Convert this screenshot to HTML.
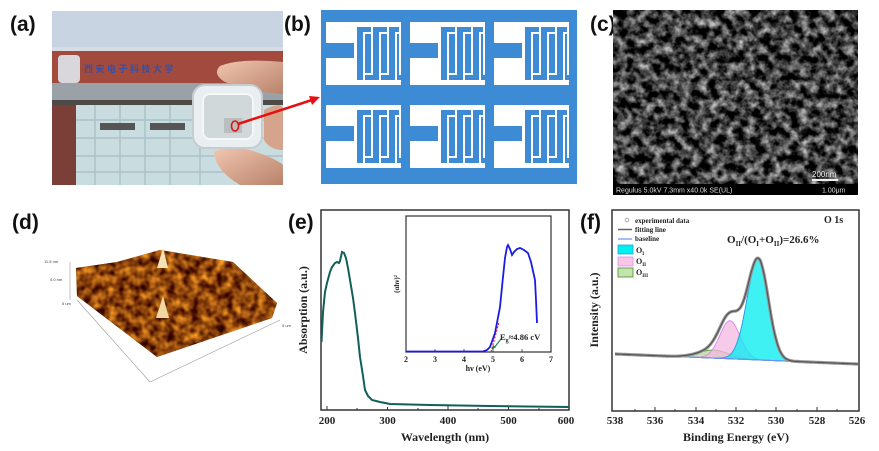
<!DOCTYPE html>
<html><head><meta charset="utf-8">
<style>
html,body{margin:0;padding:0;background:#fff;}
body{width:879px;height:451px;overflow:hidden;position:relative;font-family:"Liberation Sans",sans-serif;}
svg{position:absolute;left:0;top:0;}
.lab{font-family:"Liberation Sans",sans-serif;font-weight:bold;font-size:21px;fill:#111;}
.ser{font-family:"Liberation Serif",serif;font-weight:bold;fill:#222;}
</style></head>
<body>
<svg width="879" height="451" viewBox="0 0 879 451" xmlns="http://www.w3.org/2000/svg">
<defs>
 <filter id="semn" x="0" y="0" width="100%" height="100%" color-interpolation-filters="sRGB">
  <feTurbulence type="fractalNoise" baseFrequency="0.11" numOctaves="3" seed="7" result="t"/>
  <feColorMatrix in="t" type="matrix" values="1.5 0 0 0 -0.5  1.5 0 0 0 -0.5  1.5 0 0 0 -0.5  0 0 0 0 1"/>
 </filter>
 <filter id="afm" x="0" y="0" width="100%" height="100%" color-interpolation-filters="sRGB">
  <feTurbulence type="fractalNoise" baseFrequency="0.12" numOctaves="2" seed="3" result="t"/>
  <feColorMatrix in="t" type="matrix" values="1.4 0 0 0 -0.15  1.1 0 0 0 -0.28  0.3 0 0 0 -0.1  0 0 0 0 1"/>
 </filter>
 <clipPath id="afmclip"><polygon points="76,268 117,262 160,250 233,262 277,303 272,318 157,357 77,296"/></clipPath>
 <clipPath id="semclip"><rect x="613" y="10" width="245" height="175"/></clipPath>
 <linearGradient id="skin" x1="0" y1="0" x2="1" y2="1"><stop offset="0" stop-color="#f1c6b0"/><stop offset="1" stop-color="#b9826a"/></linearGradient>
 <g id="unit">
  <rect x="0" y="0" width="75" height="5" fill="#fff"/>
  <rect x="0" y="0" width="28" height="21" fill="#fff"/>
  <rect x="0" y="36" width="28" height="27" fill="#fff"/>
  <rect x="28" y="58" width="47" height="5" fill="#fff"/>
  <rect x="28" y="5" width="3" height="56" fill="#fff"/>
  <rect x="37" y="10" width="2" height="50" fill="#fff"/>
  <rect x="45" y="5" width="2" height="48" fill="#fff"/>
  <rect x="37" y="10" width="10" height="2" fill="#fff"/>
  <rect x="53" y="10" width="2" height="50" fill="#fff"/>
  <rect x="61" y="5" width="2" height="48" fill="#fff"/>
  <rect x="53" y="10" width="10" height="2" fill="#fff"/>
  <rect x="69" y="10" width="2" height="50" fill="#fff"/>
  <rect x="73" y="5" width="2" height="48" fill="#fff"/>
  <rect x="69" y="10" width="6" height="2" fill="#fff"/>
  <rect x="37" y="51" width="10" height="2" fill="#fff"/>
  <rect x="53" y="51" width="10" height="2" fill="#fff"/>
 </g>
</defs>

<text class="lab" x="10" y="31">(a)</text>
<text class="lab" x="284" y="31">(b)</text>
<text class="lab" x="590" y="31">(c)</text>
<text class="lab" x="12" y="229">(d)</text>
<text class="lab" x="288" y="229">(e)</text>
<text class="lab" x="580" y="229">(f)</text>

<!-- (a) photo -->
<g>
 <rect x="52" y="11" width="231" height="174" fill="#c8d4e2"/>
 <rect x="52" y="50" width="231" height="33" fill="#a24a3e"/>
 <rect x="52" y="47" width="231" height="4" fill="#d8dde4"/>
 <rect x="58" y="55" width="22" height="28" rx="4" fill="#d9d6dc"/>
 <text x="84" y="72" font-size="9" fill="#3b4fa0" font-weight="bold" font-family="Liberation Sans,Noto Sans CJK SC,sans-serif">西 安 电 子 科 技 大 学</text>
 <rect x="52" y="83" width="231" height="17" fill="#9aa2a8"/>
 <rect x="52" y="100" width="231" height="5" fill="#4e4a48"/>
 <rect x="52" y="105" width="231" height="80" fill="#c9dde0"/>
 <rect x="52" y="105" width="24" height="80" fill="#7a4038"/>
 <g stroke="#9fb8bd" stroke-width="1.5" opacity="0.7">
  <line x1="76" y1="120" x2="283" y2="120"/><line x1="76" y1="138" x2="283" y2="138"/><line x1="76" y1="156" x2="283" y2="156"/><line x1="76" y1="172" x2="283" y2="172"/>
  <line x1="95" y1="105" x2="95" y2="185"/><line x1="120" y1="105" x2="120" y2="185"/><line x1="145" y1="105" x2="145" y2="185"/><line x1="170" y1="105" x2="170" y2="185"/><line x1="200" y1="105" x2="200" y2="185"/>
 </g>
 <rect x="100" y="123" width="35" height="7" fill="#555"/><rect x="150" y="123" width="35" height="7" fill="#555"/>
 <path d="M220,66 Q240,58 283,62 L283,94 Q250,92 225,82 Q212,74 220,66Z" fill="url(#skin)"/>
 <path d="M214,152 Q225,145 250,150 Q275,158 283,165 L283,185 L240,185 Q215,170 214,152Z" fill="url(#skin)"/>
 <path d="M264,110 Q283,100 283,110 L283,150 Q270,150 264,140Z" fill="#d6a48c"/>
 <rect x="193" y="85" width="69" height="63" rx="12" fill="#e9eef0" stroke="#c6cdd1" stroke-width="2"/>
 <rect x="203" y="94" width="50" height="45" rx="7" fill="#d0d8da" stroke="#f5f7f8" stroke-width="2"/>
 <rect x="224" y="118" width="18" height="15" fill="#b9bfc0"/>
 <ellipse cx="235" cy="126" rx="3.5" ry="5" fill="none" stroke="#e61010" stroke-width="1.6"/>
 <line x1="238" y1="124" x2="312" y2="100" stroke="#e61010" stroke-width="2.5"/>
 <polygon points="320,97 309,96 312,105" fill="#e61010"/>
</g>

<!-- (b) electrodes -->
<rect x="321" y="10" width="256" height="174" fill="#3c8bd4"/>
<use href="#unit" x="326" y="22"/><use href="#unit" x="410" y="22"/><use href="#unit" x="494" y="22"/>
<use href="#unit" x="326" y="105"/><use href="#unit" x="410" y="105"/><use href="#unit" x="494" y="105"/>

<!-- (c) SEM -->
<rect x="613" y="10" width="245" height="185" fill="#2a2a2a"/>
<g clip-path="url(#semclip)">
 <rect x="613" y="10" width="245" height="175" filter="url(#semn)"/>
</g>
<rect x="613" y="184" width="245" height="11" fill="#000"/>
<text x="616" y="192.5" font-size="7" fill="#ddd">Regulus 5.0kV 7.3mm x40.0k SE(UL)</text>
<text x="822" y="192.5" font-size="7" fill="#ddd">1.00μm</text>
<text x="812" y="177" font-size="8" fill="#eee">200nm</text>
<rect x="812" y="179" width="26" height="2" fill="#eee"/>

<!-- (d) AFM -->
<g>
 <line x1="70" y1="262" x2="70" y2="300" stroke="#999" stroke-width="0.6"/>
 <line x1="77" y1="300" x2="150" y2="382" stroke="#999" stroke-width="0.6"/>
 <line x1="150" y1="382" x2="280" y2="320" stroke="#999" stroke-width="0.6"/>
 <text x="44" y="263" font-size="4" fill="#444">11.5 nm</text>
 <text x="50" y="281" font-size="4" fill="#444">0.0 nm</text>
 <text x="62" y="305" font-size="4" fill="#444">5 um</text>
 <text x="282" y="327" font-size="4" fill="#444">5 um</text>
 <polygon points="76,268 117,262 160,250 233,262 277,303 272,318 157,357 77,296" fill="#8a4a0c"/>
 <g clip-path="url(#afmclip)">
  <rect x="70" y="245" width="215" height="120" filter="url(#afm)" opacity="0.9"/>
 </g>
 <polygon points="163,248 168,268 157,268" fill="#f4e2b4"/>
 <polygon points="163,296 169,318 156,318" fill="#f0d8a0"/>
</g>

<!-- (e) absorption -->
<g>
 <rect x="321" y="210" width="248" height="200" fill="none" stroke="#333" stroke-width="1.5"/>
 <g stroke="#333" stroke-width="1">
  <line x1="327" y1="410" x2="327" y2="406"/><line x1="387.5" y1="410" x2="387.5" y2="407"/><line x1="448" y1="410" x2="448" y2="406"/><line x1="508.5" y1="410" x2="508.5" y2="407"/><line x1="357" y1="410" x2="357" y2="408"/><line x1="418" y1="410" x2="418" y2="408"/><line x1="478" y1="410" x2="478" y2="408"/><line x1="539" y1="410" x2="539" y2="408"/>
 </g>
 <g class="ser" font-size="11" text-anchor="middle">
  <text x="327" y="424">200</text><text x="387.5" y="424">300</text><text x="448" y="424">400</text><text x="508.5" y="424">500</text><text x="566" y="424">600</text>
  <text x="445" y="441" font-size="12">Wavelength (nm)</text>
  <text transform="translate(307,310) rotate(-90)" font-size="12">Absorption (a.u.)</text>
 </g>
 <path d="M321.5,342 L323,312 L325,292 L327,283 L330,272 L332,267 L335,263 L337,262 L339,263 L340,261 L342,252 L344,253 L346,258 L348,268 L350,280 L353,298 L355,313 L358,338 L360,357 L363,376 L365,390 L368,396 L372,400 L380,402 L390,404 L430,405 L490,406 L569,407" fill="none" stroke="#10605a" stroke-width="2"/>
 <rect x="406" y="216" width="145" height="136" fill="#fff" stroke="#333" stroke-width="1.2"/>
 <g class="ser" font-size="8" text-anchor="middle">
  <text x="406" y="362">2</text><text x="435" y="362">3</text><text x="464" y="362">4</text><text x="493" y="362">5</text><text x="522" y="362">6</text><text x="551" y="362">7</text>
  <text x="478" y="371">hν (eV)</text>
  <text transform="translate(399,284) rotate(-90)" font-size="7">(αhν)²</text>
 </g>
 <g stroke="#333" stroke-width="0.8">
  <line x1="435" y1="352" x2="435" y2="349"/><line x1="464" y1="352" x2="464" y2="349"/><line x1="493" y1="352" x2="493" y2="349"/><line x1="522" y1="352" x2="522" y2="349"/>
 </g>
 <path d="M406,351.5 L483,351.5 L487,350 L490,347 L495,333 L500,307 L503,277 L505,258 L507,247 L508,245 L510,249 L512,255 L514,252 L517,249 L520,248 L524,250 L528,253 L531,262 L535,280 L536,300 L537,323" fill="none" stroke="#1b1be8" stroke-width="1.8"/>
 <line x1="491" y1="352" x2="499" y2="322" stroke="#e02040" stroke-width="1.2" stroke-dasharray="2,1.5"/>
 <line x1="501" y1="339" x2="494" y2="348" stroke="#1a8a50" stroke-width="1.2"/>
 <polygon points="492,350 493,345 496,347" fill="#1a8a50"/>
 <text class="ser" x="500" y="340" font-size="8.5">E<tspan font-size="6" dy="2">g</tspan><tspan dy="-2">≈4.86 cV</tspan></text>
</g>

<!-- (f) XPS -->
<g id="xps">
 <rect x="612" y="210" width="247" height="201" fill="none" stroke="#333" stroke-width="1.5"/>
 <g class="ser" font-size="11" text-anchor="middle">
  <text x="615" y="424">538</text><text x="655" y="424">536</text><text x="696" y="424">534</text><text x="736" y="424">532</text><text x="776" y="424">530</text><text x="817" y="424">528</text><text x="857" y="424">526</text>
  <text x="736" y="441" font-size="12">Binding Energy (eV)</text>
  <text transform="translate(598,310) rotate(-90)" font-size="12">Intensity (a.u.)</text>
 </g>
 <g stroke="#333" stroke-width="1">
  <line x1="655" y1="411" x2="655" y2="407"/><line x1="696" y1="411" x2="696" y2="407"/><line x1="736" y1="411" x2="736" y2="407"/><line x1="776" y1="411" x2="776" y2="407"/><line x1="817" y1="411" x2="817" y2="407"/>
  <line x1="635" y1="411" x2="635" y2="409"/><line x1="675" y1="411" x2="675" y2="409"/><line x1="716" y1="411" x2="716" y2="409"/><line x1="756" y1="411" x2="756" y2="409"/><line x1="797" y1="411" x2="797" y2="409"/><line x1="837" y1="411" x2="837" y2="409"/>
 </g>
 <g id="xpscurves"></g>
 <circle cx="627" cy="220" r="1.8" fill="none" stroke="#999" stroke-width="0.8"/>
 <line x1="618" y1="229.5" x2="632" y2="229.5" stroke="#666" stroke-width="1.5"/>
 <line x1="618" y1="239" x2="632" y2="239" stroke="#6f8ff0" stroke-width="1.2"/>
 <rect x="618" y="245" width="15" height="9" fill="#00f0f0" stroke="#2aa0e0" stroke-width="0.8"/>
 <rect x="618" y="257" width="15" height="9" fill="#f9c6e8" stroke="#e090e0" stroke-width="0.8"/>
 <rect x="618" y="268" width="15" height="9" fill="#c5e2b0" stroke="#58a838" stroke-width="1"/>
 <g class="ser" font-size="7">
  <text x="635" y="223">experimental data</text>
  <text x="635" y="232">fitting line</text>
  <text x="635" y="241">baseline</text>
  <text x="636" y="253" font-size="8">O<tspan font-size="5" dy="2">I</tspan></text>
  <text x="636" y="264" font-size="8">O<tspan font-size="5" dy="2">II</tspan></text>
  <text x="636" y="275" font-size="8">O<tspan font-size="5" dy="2">III</tspan></text>
 </g>
 <text class="ser" x="824" y="223" font-size="10">O 1s</text>
 <text class="ser" x="727" y="243" font-size="11">O<tspan font-size="7" dy="3">II</tspan><tspan dy="-3">/(O</tspan><tspan font-size="7" dy="3">I</tspan><tspan dy="-3">+O</tspan><tspan font-size="7" dy="3">II</tspan><tspan dy="-3">)=26.6%</tspan></text>
</g>

<script>
(function(){
 var g=document.getElementById('xpscurves');
 function X(e){return 615+(538-e)*20.17;}
 function B(e){var t=(538-e)/12;return 354+10*t;}
 function G(e,c,a,s){return a*Math.exp(-Math.pow(e-c,2)/(2*s*s));}
 function p1(e){return G(e,530.9,101,e>530.9?0.55:0.5);}
 function p2(e){return G(e,532.3,38,0.5);}
 function p3(e){return G(e,533.1,8,0.75);}
 var ns="http://www.w3.org/2000/svg";
 function area(f,fill,stroke){
  var d='',e,pts=[];
  for(e=536;e>=528;e-=0.05){pts.push([X(e),B(e)-f(e)]);}
  d='M'+pts.map(function(p){return p[0].toFixed(1)+','+p[1].toFixed(1);}).join(' L');
  for(e=528;e<=536;e+=0.05){d+=' L'+X(e).toFixed(1)+','+B(e).toFixed(1);}
  d+='Z';
  var p=document.createElementNS(ns,'path');p.setAttribute('d',d);p.setAttribute('fill',fill);p.setAttribute('fill-opacity','0.75');p.setAttribute('stroke',stroke);p.setAttribute('stroke-width','1');g.appendChild(p);
 }
 area(p3,'#b5d8a0','#58a838');
 area(p2,'#f6b8e2','#d890e8');
 area(p1,'#00ecf0','#2aa0e0');
 var bl=document.createElementNS(ns,'line');bl.setAttribute('x1',X(536));bl.setAttribute('y1',B(536));bl.setAttribute('x2',X(526));bl.setAttribute('y2',B(526));bl.setAttribute('stroke','#6f8ff0');bl.setAttribute('stroke-width','1');g.appendChild(bl);
 var d='',e;
 for(e=538;e>=525.95;e-=0.05){var y=B(e)-p1(e)-p2(e)-p3(e);d+=(d?' L':'M')+X(e).toFixed(1)+','+y.toFixed(1);}
 var f=document.createElementNS(ns,'path');f.setAttribute('d',d);f.setAttribute('fill','none');f.setAttribute('stroke','#999');f.setAttribute('stroke-width','3.2');g.appendChild(f);
 var f2=document.createElementNS(ns,'path');f2.setAttribute('d',d);f2.setAttribute('fill','none');f2.setAttribute('stroke','#555');f2.setAttribute('stroke-width','1.2');g.appendChild(f2);
})();
</script>
</svg>
</body></html>
